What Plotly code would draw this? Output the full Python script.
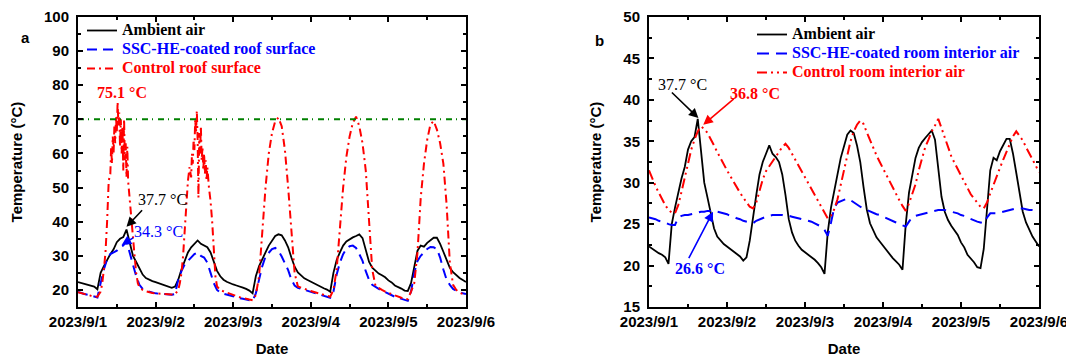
import pandas as pd
import plotly.graph_objects as go

# ---------------- data ----------------
start = pd.Timestamp("2023-09-01 00:00")
hours = list(range(121))  # hourly readings, 2023/9/1 00:00 .. 2023/9/6 00:00

ambient_air = [
    22.3, 22.0, 21.7, 21.5, 21.3, 21.0, 20.2, 25.0, 27.0, 28.8, 30.5, 31.9, 34.0, 35.0, 35.5, 37.7, 34.0, 30.0, 28.2, 26.3, 24.5, 23.5, 23.0, 22.6,
    22.3, 22.0, 21.6, 21.4, 21.1, 20.6, 21.0, 23.0, 26.0, 28.5, 31.0, 32.5, 33.5, 34.5, 33.5, 33.1, 32.5, 31.0, 28.5, 25.6, 24.0, 23.0, 22.4, 21.9,
    21.6, 21.3, 21.1, 20.7, 20.3, 19.8, 19.0, 24.0, 27.0, 28.8, 31.0, 33.0, 34.3, 35.8, 36.3, 36.0, 34.5, 32.5, 29.5, 26.8, 25.1, 24.2, 23.4, 22.9,
    22.4, 21.8, 21.3, 20.9, 20.5, 20.1, 19.5, 25.0, 28.8, 31.0, 33.0, 34.2, 34.9, 35.4, 35.8, 36.3, 35.2, 31.9, 28.3, 26.5, 25.5, 24.8, 24.3, 23.7,
    22.8, 22.2, 21.3, 20.9, 20.4, 19.8, 19.7, 22.0, 26.5, 31.5, 33.0, 32.7, 33.8, 34.5, 35.3, 35.3, 33.5, 31.2, 29.0, 26.5, 25.2, 24.3, 23.5, 22.9,
    22.3,
]

coated_roof = [
    19.4, 19.0, 18.8, 18.6, 18.3, 18.0, 17.8, 22.0, 26.0, 29.0, 30.5, 31.0, 31.5, 32.5, 33.0, 34.3, 31.0, 28.0, 24.0, 21.5, 20.3, 19.8, 19.5, 19.2,
    19.0, 18.9, 18.8, 18.7, 18.7, 18.6, 18.8, 23.0, 25.5, 27.5, 28.5, 29.5, 30.5, 31.0, 30.0, 29.5, 28.0, 25.0, 22.0, 20.0, 19.2, 18.9, 18.6, 18.3,
    18.0, 17.8, 17.6, 17.4, 17.2, 17.0, 16.8, 19.0, 23.5, 27.0, 29.8, 31.0, 32.0, 32.3, 31.5, 29.8, 28.0, 25.8, 23.0, 21.3, 20.6, 20.3, 20.1, 19.8,
    19.5, 19.2, 18.9, 18.6, 18.3, 18.0, 17.7, 19.5, 24.5, 28.0, 30.5, 32.0, 32.8, 33.0, 32.3, 30.5, 28.5, 25.5, 23.0, 21.5, 20.8, 20.3, 19.8, 19.3,
    18.8, 18.4, 18.0, 17.7, 17.4, 17.1, 16.8, 19.5, 25.0, 28.5, 30.0, 31.0, 32.0, 32.6, 32.5, 32.0, 29.5, 26.0, 23.0, 21.5, 20.3, 19.8, 19.3, 19.0,
    18.8,
]

control_roof_hours = (
    [0, 1, 2, 3, 4, 5, 6, 7, 7.5, 8, 8.5, 9, 9.5, 10, 10.25, 10.5, 10.75, 11, 11.25, 11.5, 11.75, 12, 12.25, 12.5, 12.75,
     13, 13.25, 13.5, 13.75, 14, 14.25, 14.5, 14.75, 15, 15.25, 15.5, 16, 16.5, 17, 17.5, 18, 18.5, 19]
    + list(range(20, 31))
    + [31, 31.5, 32, 32.5, 33, 33.5, 34, 34.5, 35, 35.25, 35.5, 35.75, 36, 36.25, 36.5, 36.75, 37, 37.25, 37.5, 37.75,
       38, 38.25, 38.5, 38.75, 39, 39.25, 39.5, 39.75, 40, 40.5, 41, 41.5, 42, 42.5, 43]
    + list(range(44, 121))
)
control_roof = [
    19.3, 19.0, 18.7, 18.5, 18.3, 18.1, 18.0, 19.5, 22.0, 26.0, 31.0, 40.0, 52.0, 54.0, 62.0, 57.0, 65.0, 60.0, 68.0, 63.0, 71.0, 66.0, 75.1, 68.0, 72.0,
    62.0, 70.0, 60.0, 68.0, 55.0, 70.0, 58.0, 63.0, 53.0, 62.0, 52.0, 46.0, 42.0, 36.0, 30.0, 25.0, 22.0, 20.8,
    20.0, 19.6, 19.3, 19.1, 19.0, 18.9, 18.8, 18.8, 18.7, 18.7, 18.7,
    20.0, 22.0, 25.0, 30.0, 38.0, 46.0, 52.0, 56.0, 53.0, 60.0, 57.0, 64.0, 61.0, 70.0, 66.0, 72.5, 64.0, 47.0, 66.0, 60.0,
    68.0, 58.0, 62.0, 55.0, 60.0, 54.0, 58.0, 52.0, 56.0, 50.0, 46.0, 40.0, 32.0, 24.0, 21.0,
    20.0, 19.6, 19.2, 18.8, 18.5, 18.2, 17.9, 17.6, 17.4, 17.2, 17.0,
    18.5, 24.0, 38.0, 50.0, 60.0, 66.0, 69.5, 70.5, 68.0, 61.0, 50.0, 36.0, 25.0, 21.0, 20.6, 20.3, 20.0, 19.7, 19.4, 19.1, 18.8, 18.5, 18.2, 18.0,
    20.0, 26.0, 38.0, 50.0, 59.0, 65.0, 69.0, 70.8, 68.0, 63.0, 55.0, 40.0, 26.0, 21.2, 20.5, 20.0, 19.5, 19.1, 18.7, 18.3, 18.0, 17.7, 17.4, 17.3,
    19.5, 22.0, 31.0, 47.0, 57.0, 64.0, 68.5, 69.5, 67.0, 63.0, 57.0, 45.0, 28.0, 21.5, 20.0, 19.2, 18.8, 18.4,
]

coated_room = [
    25.8, 25.7, 25.6, 25.4, 25.3, 25.2, 25.0, 24.9, 24.9, 25.8, 26.0, 26.1, 26.1, 26.2, 26.3, 26.4, 26.5, 26.5, 26.6, 26.6, 26.5, 26.5, 26.4, 26.3,
    26.2, 26.0, 25.9, 25.7, 25.6, 25.4, 25.3, 25.2, 25.1, 25.4, 25.6, 25.8, 25.9, 26.0, 26.1, 26.1, 26.1, 26.1, 26.0, 26.0, 25.9, 25.8, 25.7, 25.6,
    25.5, 25.4, 25.3, 25.1, 24.9, 24.7, 24.3, 23.6, 25.2, 27.0, 27.6, 27.8, 28.0, 28.1, 27.9, 27.6, 27.4, 27.1, 26.9, 26.7, 26.6, 26.4, 26.2, 26.1,
    25.9, 25.8, 25.6, 25.4, 25.2, 25.0, 24.8, 24.7, 25.3, 25.9, 26.0, 26.1, 26.2, 26.3, 26.4, 26.5, 26.6, 26.7, 26.7, 26.7, 26.6, 26.5, 26.4, 26.3,
    26.1, 26.0, 25.8, 25.6, 25.5, 25.3, 25.2, 25.1, 25.8, 26.3, 26.3, 26.3, 26.4, 26.5, 26.6, 26.7, 26.8, 26.9, 26.9, 26.9, 26.8, 26.7, 26.7, 26.6,
    26.5,
]

control_room = [
    31.5, 30.5, 29.6, 28.8, 28.0, 27.3, 26.7, 26.4, 26.3, 27.3, 28.9, 30.6, 32.4, 34.0, 35.2, 36.2, 36.8, 36.5, 36.0, 35.3, 34.5, 33.7, 32.9, 32.2,
    31.5, 30.8, 30.1, 29.4, 28.8, 28.2, 27.6, 27.1, 26.9, 27.6, 29.0, 30.4, 31.4, 32.0, 32.6, 33.2, 33.8, 34.3, 34.7, 34.2, 33.5, 32.8, 32.1, 31.4,
    30.6, 29.9, 29.2, 28.5, 27.8, 27.1, 26.4, 25.7, 26.0, 26.8, 28.0, 29.8, 31.5, 33.3, 35.0, 36.2, 37.0, 37.5, 37.1, 36.1, 35.1, 34.1, 33.3, 32.5,
    31.7, 30.9, 30.1, 29.3, 28.6, 27.9, 27.2, 26.6, 27.5, 28.6, 29.8, 31.5, 33.0, 34.3, 35.2, 36.2, 36.9, 37.7, 36.6, 35.5, 34.4, 33.2, 32.4, 31.6,
    30.8, 30.0, 29.2, 28.6, 28.1, 27.6, 27.1, 26.9, 27.6, 28.7, 29.8, 30.8, 31.8, 32.8, 33.8, 34.8, 35.6, 36.2, 35.7, 35.1, 34.3, 33.5, 32.7, 32.0,
    31.3,
]

threshold = 70
tick_days = [0, 1, 2, 3, 4, 5]
tick_labels = ["2023/9/1", "2023/9/2", "2023/9/3", "2023/9/4", "2023/9/5", "2023/9/6"]

# ---------------- helpers ----------------
def t(hs):
    return [start + pd.Timedelta(hours=h) for h in hs]

tickvals = [start + pd.Timedelta(days=d) for d in tick_days]
minorvals = [start + pd.Timedelta(days=d, hours=12) for d in tick_days[:-1]]

SANS = "Liberation Sans"
SERIF = "Liberation Serif"

def lg(text, color):
    return (f"<span style='font-family:{SERIF};font-size:16px;color:{color}'><b>{text}</b></span>")

fig = go.Figure()

# panel a
fig.add_trace(go.Scatter(x=t(hours), y=ambient_air, mode="lines", xaxis="x", yaxis="y",
                         line=dict(color="black", width=1.8),
                         name=lg("Ambient air", "#000000"), legend="legend"))
fig.add_trace(go.Scatter(x=t(hours), y=coated_roof, mode="lines", xaxis="x", yaxis="y",
                         line=dict(color="#0000FF", width=2, dash="10px,6px"),
                         name=lg("SSC-HE-coated roof surface", "#0000FF"), legend="legend"))
fig.add_trace(go.Scatter(x=t(control_roof_hours), y=control_roof, mode="lines", xaxis="x", yaxis="y",
                         line=dict(color="#FF0000", width=2, dash="8px,4px,2px,4px"),
                         name=lg("Control roof surface", "#FF0000"), legend="legend"))
fig.add_trace(go.Scatter(x=[tickvals[0], tickvals[-1]], y=[threshold, threshold], mode="lines",
                         xaxis="x", yaxis="y", line=dict(color="#008000", width=2, dash="6px,4px,1px,5px"),
                         showlegend=False, hoverinfo="skip"))

# panel b
fig.add_trace(go.Scatter(x=t(hours), y=ambient_air, mode="lines", xaxis="x2", yaxis="y2",
                         line=dict(color="black", width=1.8),
                         name=lg("Ambient air", "#000000"), legend="legend2"))
fig.add_trace(go.Scatter(x=t(hours), y=coated_room, mode="lines", xaxis="x2", yaxis="y2",
                         line=dict(color="#0000FF", width=2, dash="12px,7px"),
                         name=lg("SSC-HE-coated room interior air", "#0000FF"), legend="legend2"))
fig.add_trace(go.Scatter(x=t(hours), y=control_room, mode="lines", xaxis="x2", yaxis="y2",
                         line=dict(color="#FF0000", width=2, dash="10px,4px,2px,4px,2px,4px"),
                         name=lg("Control room interior air", "#FF0000"), legend="legend2"))

# page body has an 8px margin: figure is sized to fit and coordinates are offset by it
OFF = 8
W, H = 1074 - OFF, 360 - OFF
def px(xp):
    return (xp - OFF) / W
def py(yp):
    return 1 - (yp - OFF) / H

tickfont = dict(family=SANS, size=15, color="black", weight="bold")
titlefont = dict(family=SANS, size=15, color="black", weight="bold")

def xax(domain, anchor):
    return dict(domain=domain, anchor=anchor, type="date", range=[tickvals[0], tickvals[-1]],
                tickmode="array", tickvals=tickvals, ticktext=tick_labels,
                ticks="inside", ticklen=5, tickwidth=1.5, tickcolor="black",
                minor=dict(tickmode="array", tickvals=minorvals, ticks="inside", ticklen=3,
                           tickwidth=1.5, tickcolor="black", showgrid=False),
                showline=True, linecolor="black", linewidth=2, mirror="ticks",
                showgrid=False, zeroline=False, tickfont=tickfont, automargin=False,
                title=dict(text="Date", font=titlefont, standoff=14))

def yax(domain, rng, dtick, anchor):
    return dict(domain=domain, range=rng, dtick=dtick, tick0=0, anchor=anchor,
                ticks="inside", ticklen=5, tickwidth=1.5, tickcolor="black",
                minor=dict(dtick=dtick / 2, ticks="inside", ticklen=3, tickwidth=1.5,
                           tickcolor="black", showgrid=False),
                showline=True, linecolor="black", linewidth=2, mirror="ticks",
                showgrid=False, zeroline=False, tickfont=tickfont, ticklabelstandoff=4,
                automargin=False,
                title=dict(text="Temperature (°C)", font=titlefont, standoff=18))

ydom = [py(307), py(17)]

fig.update_layout(
    width=W, height=H, margin=dict(l=0, r=0, t=0, b=0, autoexpand=False),
    paper_bgcolor="white", plot_bgcolor="white",
    xaxis=xax([px(78), px(466)], "y"), xaxis2=xax([px(649), px(1039)], "y2"),
    yaxis=yax(ydom, [15, 100], 10, "x"),
    yaxis2=yax(ydom, [15, 50], 5, "x2"),
    legend=dict(x=px(82), y=py(16), xanchor="left", yanchor="top", bgcolor="rgba(0,0,0,0)",
                font=dict(family=SERIF, size=12, color="black"), tracegroupgap=0, itemclick=False),
    legend2=dict(x=px(752), y=py(20), xanchor="left", yanchor="top", bgcolor="rgba(0,0,0,0)",
                 font=dict(family=SERIF, size=12, color="black"), tracegroupgap=0, itemclick=False),
    showlegend=True,
)

def hr(h):
    return start + pd.Timedelta(hours=h)

ann = []
def label(xref, yref, h, y, text, color, bold=True, size=16):
    ann.append(dict(xref=xref, yref=yref, x=hr(h), y=y, text=(f"<b>{text}</b>" if bold else text),
                    showarrow=False, font=dict(family=SERIF, size=size, color=color)))

def arrow(xref, yref, h, y, ax, ay, color):
    ann.append(dict(xref=xref, yref=yref, x=hr(h), y=y, text="", showarrow=True, ax=ax, ay=ay,
                    arrowhead=2, arrowsize=1.2, arrowwidth=1.6, arrowcolor=color))

# panel a annotations
label("x", "y", 13.6, 78.0, "75.1 °C", "#FF0000", True)
label("x", "y", 26.1, 46.4, "37.7 °C", "black", False)
arrow("x", "y", 15.0, 38.5, 17, -18, "black")
label("x", "y", 24.8, 37.1, "34.3 °C", "#0000FF", False)
arrow("x", "y", 13.5, 33.2, 13, -8, "#0000FF")
# panel b annotations
label("x2", "y2", 10.3, 41.8, "37.7 °C", "black", False)
arrow("x2", "y2", 15.2, 37.8, -28, -27, "black")
label("x2", "y2", 32.6, 40.8, "36.8 °C", "#FF0000", True)
arrow("x2", "y2", 16.7, 37.0, 32, -27, "#FF0000")
label("x2", "y2", 15.7, 19.6, "26.6 °C", "#0000FF", True)
arrow("x2", "y2", 19.7, 26.5, -25, 48, "#0000FF")

# panel letters
ann.append(dict(xref="paper", yref="paper", x=px(19), y=py(27), text="<b>a</b>", showarrow=False,
                font=dict(family=SANS, size=15, color="black")))
ann.append(dict(xref="paper", yref="paper", x=px(599), y=py(30), text="<b>b</b>", showarrow=False,
                font=dict(family=SANS, size=15, color="black")))

fig.update_layout(annotations=ann)
fig.write_html("out.html")
